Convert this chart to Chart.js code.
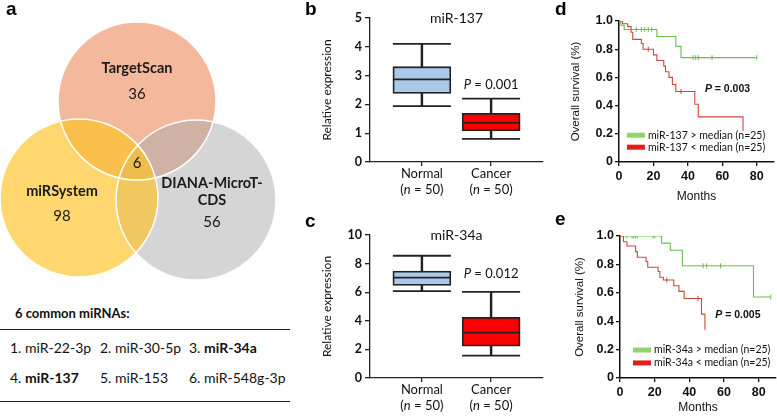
<!DOCTYPE html>
<html>
<head>
<meta charset="utf-8">
<title>miR-137 and miR-34a</title>
<script src="https://cdn.jsdelivr.net/npm/chart.js@4.4.1/dist/chart.umd.min.js"></script>
<style>
  html, body { margin: 0; padding: 0; background: #fff; }
  #fig { position: relative; width: 777px; height: 416px; overflow: hidden; color: #111; }
  #fig canvas { position: absolute; }
  .tag { position: absolute; font: bold 19px/19px "Liberation Sans", Arial, sans-serif; color: #000; }
  .txt { position: absolute; font-family: Lato, sans-serif; white-space: nowrap; color: #111; }
  .rule { position: absolute; left: 0; width: 290px; height: 0; border-top: 1.5px solid #222; }
</style>
</head>
<body>
<div id="fig">
  <canvas id="venn" width="280" height="300" style="left:0;top:0"></canvas>
  <canvas id="box137" width="245" height="200" style="left:300px;top:0"></canvas>
  <canvas id="box34a" width="245" height="216" style="left:300px;top:200px"></canvas>
  <canvas id="km137" width="232" height="205" style="left:545px;top:0"></canvas>
  <canvas id="km34a" width="232" height="216" style="left:545px;top:200px"></canvas>

  <div class="tag" style="left:6px;top:-1px">a</div>
  <div class="tag" style="left:305px;top:-1px">b</div>
  <div class="tag" style="left:305px;top:211px">c</div>
  <div class="tag" style="left:555px;top:-1px">d</div>
  <div class="tag" style="left:555px;top:209px">e</div>

  <div class="txt" id="tableHead" style="left:15px;top:306px;font-size:13px;line-height:15.6px;font-weight:bold"></div>
  <div class="rule" style="top:329px"></div>
  <div class="rule" style="top:401px"></div>
  <div id="tableRows"></div>
</div>

<script>
// ---------- data ----------
// panel a: overlap of three prediction tools
const vennSets = ['TargetScan', 'miRSystem', 'DIANA-MicroT-CDS'];
const vennOnly = [36, 98, 56];
const vennCommon = 6;
const commonMirnas = ['miR-22-3p', 'miR-30-5p', 'miR-34a', 'miR-137', 'miR-153', 'miR-548g-3p'];
const boldMirnas = ['miR-34a', 'miR-137'];

// panels b, c: five-number summaries (min, q1, median, q3, max)
const groups = ['Normal', 'Cancer'];
const groupSizes = [50, 50];
const mir137Normal = [1.94, 2.38, 2.87, 3.31, 4.10];
const mir137Cancer = [0.80, 1.08, 1.36, 1.69, 2.20];
const mir34aNormal = [6.07, 6.47, 7.02, 7.48, 8.55];
const mir34aCancer = [1.56, 2.23, 3.17, 4.24, 6.02];
const mir137Ticks = [0, 1, 2, 3, 4, 5];
const mir34aTicks = [0, 2, 4, 6, 8, 10];

// panels d, e: Kaplan-Meier steps [month, survival]
const survivalTicks = [0, 0.2, 0.4, 0.6, 0.8, 1.0];
const monthTicks = [0, 20, 40, 60, 80];

const km137High = [[0, 1], [1, 0.97], [3, 0.94], [22, 0.89], [33, 0.82], [36, 0.74], [80, 0.74]];
const km137Low = [[0, 1], [2, 0.98], [5, 0.96], [7, 0.92], [8, 0.87], [13, 0.84], [14, 0.80], [20, 0.76],
  [22, 0.72], [26, 0.68], [27, 0.64], [29, 0.60], [31, 0.55], [33, 0.50], [44, 0.41], [46, 0.32], [72, 0.32], [72, 0.22]];
const km137HighCensor = [[10, 0.94], [13, 0.94], [15, 0.94], [17, 0.94], [19, 0.94], [43, 0.74], [44.5, 0.74], [46, 0.74], [54, 0.74], [80, 0.74]];
const km137LowCensor = [[17, 0.80], [36, 0.50]];
const km137Labels = ['miR-137 > median (n=25)', 'miR-137 < median (n=25)'];

const km34aHigh = [[0, 1], [24, 0.95], [29, 0.90], [36, 0.79], [77, 0.57], [87, 0.57]];
const km34aLow = [[0, 1], [2, 0.96], [4, 0.93], [9, 0.89], [10, 0.85], [15, 0.82], [16, 0.78], [22, 0.75],
  [23, 0.71], [25, 0.69], [31, 0.65], [34, 0.61], [37, 0.56], [47, 0.45], [49, 0.34]];
const km34aHighCensor = [[2, 1], [4, 1], [7, 1], [8, 1], [9, 1], [10, 1], [19, 1], [20, 1], [48, 0.79], [50, 0.79], [58, 0.79], [87, 0.57]];
const km34aLowCensor = [[27, 0.69], [45, 0.56]];
const km34aLabels = ['miR-34a > median (n=25)', 'miR-34a < median (n=25)'];

// ---------- helpers ----------
const SANS = '"Liberation Sans", Arial, sans-serif';
const CALI = 'Lato, sans-serif';

function drawRich(ctx, parts, x, y, font, align) {
  const fontOf = p => (p.italic ? 'italic ' : '') + (font.weight || 'normal') + ' ' + font.size + 'px ' + font.family;
  let total = 0;
  parts.forEach(p => { ctx.font = fontOf(p); total += ctx.measureText(p.t).width; });
  let cx = align === 'center' ? x - total / 2 : (align === 'right' ? x - total : x);
  ctx.textAlign = 'left';
  parts.forEach(p => {
    ctx.font = fontOf(p);
    ctx.fillText(p.t, cx, y);
    cx += ctx.measureText(p.t).width;
  });
}

const baseOptions = {
  animation: false,
  responsive: false,
  events: [],
  plugins: { legend: { display: false }, tooltip: { enabled: false } },
};

// ---------- panel a: Venn ----------
// drawn bottom to top: TargetScan, DIANA, miRSystem (translucent so overlaps blend)
const vennOrder = [0, 2, 1];
const vennGeom = [{ x: 137, y: 101, r: 79 }, { x: 79, y: 198, r: 79 }, { x: 196, y: 200, r: 80 }];
const vennColors = ['#f4b99d', 'rgba(255,194,32,0.65)', 'rgba(172,172,172,0.5)'];
// centre x, name baselines, count baseline
const vennLabelPos = [
  { x: 137, lines: [73], count: 99 },
  { x: 62, lines: [196], count: 221 },
  { x: 212, lines: [188, 205], count: 227 },
];
const vennNames = [['TargetScan'], ['miRSystem'], ['DIANA-MicroT-', 'CDS']];

const vennText = {
  id: 'vennText',
  afterDatasetsDraw(chart) {
    const ctx = chart.ctx, xs = chart.scales.x, ys = chart.scales.y;
    ctx.save();
    ctx.fillStyle = '#1a1a1a';
    ctx.textAlign = 'center';
    ctx.textBaseline = 'alphabetic';
    vennLabelPos.forEach((p, i) => {
      ctx.font = 'bold 14.5px ' + CALI;
      vennNames[i].forEach((line, j) => ctx.fillText(line, xs.getPixelForValue(p.x), ys.getPixelForValue(p.lines[j])));
      ctx.font = '15px ' + CALI;
      ctx.fillText(String(vennOnly[i]), xs.getPixelForValue(p.x), ys.getPixelForValue(p.count));
    });
    ctx.font = '15px ' + CALI;
    ctx.fillText(String(vennCommon), xs.getPixelForValue(137), ys.getPixelForValue(168));
    ctx.restore();
  },
};

const vennPoints = vennOrder.map(i => ({ x: vennGeom[i].x, y: vennGeom[i].y, r: vennGeom[i].r }));
new Chart(document.getElementById('venn'), {
  type: 'bubble',
  data: {
    datasets: [
      { label: vennOrder.map(i => vennSets[i]).join(' / '), data: vennPoints,
        backgroundColor: vennOrder.map(i => vennColors[i]), borderWidth: 0, order: 2, clip: false },
      { label: 'outline', data: vennPoints, backgroundColor: 'rgba(0,0,0,0)', borderColor: '#ffffff', borderWidth: 1.5, order: 1, clip: false },
    ],
  },
  options: {
    ...baseOptions,
    layout: { padding: 0, autoPadding: false },
    scales: {
      x: { type: 'linear', min: 0, max: 280, display: false },
      y: { type: 'linear', min: 0, max: 300, reverse: true, display: false },
    },
  },
  plugins: [vennText],
});

// table under the Venn diagram
document.getElementById('tableHead').textContent = commonMirnas.length + ' common miRNAs:';
const colX = [10, 100, 189];
const rowTop = [340, 370];
document.getElementById('tableRows').innerHTML = commonMirnas.map((m, i) => {
  const name = boldMirnas.includes(m) ? '<b>' + m + '</b>' : m;
  return '<div class="txt" style="left:' + colX[i % 3] + 'px;top:' + rowTop[Math.floor(i / 3)] +
    'px;font-size:14px;line-height:16.8px">' + (i + 1) + '. ' + name + '</div>';
}).join('');

// ---------- panels b, c: box plots ----------
function drawBoxPanel(id, title, pValue, normal, cancer, ticks, pAtY, pad, xHeight) {
  const pos = [0.75, 1.75];
  const stats = [normal, cancer];
  const yMax = ticks[ticks.length - 1];
  const ink = '#222222';

  const boxText = {
    id: 'boxText',
    afterDatasetsDraw(chart) {
      const ctx = chart.ctx, xs = chart.scales.x, ys = chart.scales.y;
      ctx.save();
      ctx.fillStyle = '#111';
      ctx.textBaseline = 'middle';
      drawRich(ctx, [{ t: title }], xs.getPixelForValue(1.25), ys.getPixelForValue(yMax), { family: CALI, size: 14 }, 'center');
      drawRich(ctx, [{ t: 'P', italic: true }, { t: ' = ' + pValue }],
        xs.getPixelForValue(pos[1]), ys.getPixelForValue(pAtY), { family: CALI, size: 13 }, 'center');
      groups.forEach((g, i) => {
        const x = xs.getPixelForValue(pos[i]);
        drawRich(ctx, [{ t: g }], x, xs.top + 12, { family: CALI, size: 13 }, 'center');
        drawRich(ctx, [{ t: '(' }, { t: 'n', italic: true }, { t: ' = ' + groupSizes[i] + ')' }], x, xs.top + 28,
          { family: CALI, size: 13 }, 'center');
      });
      ctx.restore();
    },
  };

  new Chart(document.getElementById(id), {
    type: 'bar',
    data: {
      datasets: [
        {
          type: 'bar', label: 'whisker',
          data: stats.map((s, i) => ({ x: pos[i], y: [s[0], s[4]] })),
          backgroundColor: ink, barThickness: 1.8, grouped: false, order: 3,
        },
        {
          type: 'bar', label: 'box',
          data: stats.map((s, i) => ({ x: pos[i], y: [s[1], s[3]] })),
          backgroundColor: ['#aac9ea', '#ff0000'], borderColor: ink, borderWidth: 1.8,
          borderSkipped: false, barThickness: 58, grouped: false, order: 2,
        },
        {
          type: 'scatter', label: 'caps and medians',
          data: stats.flatMap((s, i) => [s[0], s[2], s[4]].map(v => ({ x: pos[i], y: v }))),
          pointStyle: 'line', pointRadius: 29, pointHoverRadius: 29,
          pointBorderColor: ink, pointBorderWidth: 1.8, order: 1,
        },
      ],
    },
    options: {
      ...baseOptions,
      layout: { padding: pad, autoPadding: false },
      scales: {
        x: {
          type: 'linear', min: 0, max: 2.5, offset: false,
          afterBuildTicks: s => { s.ticks = pos.map(v => ({ value: v })); },
          afterFit: s => { s.height = xHeight; },
          grid: { display: true, drawOnChartArea: false, drawTicks: true, tickLength: 4, color: ink, lineWidth: 1.3, offset: false },
          border: { display: true, color: ink, width: 1.3 },
          ticks: { display: false },
        },
        y: {
          min: 0, max: yMax,
          afterBuildTicks: s => { s.ticks = ticks.map(v => ({ value: v })); },
          afterFit: s => { s.width = 70 - pad.left; },
          grid: { display: true, drawOnChartArea: false, drawTicks: true, tickLength: 5, color: ink, lineWidth: 1.3 },
          border: { display: true, color: ink, width: 1.3 },
          ticks: { font: { family: CALI, size: 12.5, weight: 'bold' }, color: '#111', padding: 3 },
          title: { display: true, text: 'Relative expression', font: { family: CALI, size: 12 }, color: '#111', padding: { top: 3, bottom: 0 } },
        },
      },
    },
    plugins: [boxText],
  });
}

drawBoxPanel('box137', 'miR-137', '0.001', mir137Normal, mir137Cancer, mir137Ticks, 2.69,
  { top: 18, left: 17, right: 2, bottom: 0 }, 38);
drawBoxPanel('box34a', 'miR-34a', '0.012', mir34aNormal, mir34aCancer, mir34aTicks, 7.28,
  { top: 35, left: 17, right: 2, bottom: 0 }, 38);

// ---------- panels d, e: survival curves ----------
const kmGreen = '#6cbf4c';
const kmRed = '#d4443f';
const swatchColors = ['#92d36c', '#e41c1c'];

function drawSurvivalPanel(id, high, low, highCensor, lowCensor, labels, pValue, pAt, legendAt, pad, xHeight) {
  const toXY = arr => arr.map(([x, y]) => ({ x: x, y: y }));

  const kmText = {
    id: 'kmText',
    afterDatasetsDraw(chart) {
      const ctx = chart.ctx, xs = chart.scales.x, ys = chart.scales.y;
      ctx.save();
      ctx.fillStyle = '#111';
      ctx.textBaseline = 'middle';
      drawRich(ctx, [{ t: 'P', italic: true }, { t: ' = ' + pValue }],
        xs.getPixelForValue(pAt[0]), ys.getPixelForValue(pAt[1]), { family: SANS, size: 10.5, weight: 'bold' }, 'center');
      labels.forEach((lab, i) => {
        const x = xs.getPixelForValue(legendAt[0]);
        const y = ys.getPixelForValue(legendAt[1][i]);
        ctx.fillStyle = swatchColors[i];
        ctx.fillRect(x, y - 2.5, 18, 5);
        ctx.fillStyle = '#111';
        drawRich(ctx, [{ t: lab }], x + 21, y, { family: CALI, size: 10.5 }, 'left');
      });
      ctx.restore();
    },
  };

  new Chart(document.getElementById(id), {
    type: 'line',
    data: {
      datasets: [
        { label: labels[1], data: toXY(low), stepped: 'before', borderColor: kmRed, borderWidth: 1.1, pointRadius: 0, fill: false },
        { label: labels[0], data: toXY(high), stepped: 'before', borderColor: kmGreen, borderWidth: 1.1, pointRadius: 0, fill: false },
        { type: 'scatter', label: 'censored high', data: toXY(highCensor), pointStyle: 'line', pointRotation: 90,
          pointRadius: 2.5, pointBorderColor: kmGreen, pointBorderWidth: 1 },
        { type: 'scatter', label: 'censored low', data: toXY(lowCensor), pointStyle: 'line', pointRotation: 90,
          pointRadius: 2.5, pointBorderColor: kmRed, pointBorderWidth: 1 },
      ],
    },
    options: {
      ...baseOptions,
      layout: { padding: pad, autoPadding: false },
      scales: {
        x: {
          type: 'linear', min: 0, max: 90,
          afterBuildTicks: s => { s.ticks = monthTicks.map(v => ({ value: v })); },
          afterFit: s => { s.height = xHeight; },
          grid: { display: true, drawOnChartArea: false, drawTicks: true, tickLength: 4, color: '#111', lineWidth: 1.3 },
          border: { display: true, color: '#111', width: 1.5 },
          ticks: { font: { family: SANS, size: 12.5, weight: 'bold' }, color: '#111', padding: 3, maxRotation: 0, autoSkip: false },
          title: { display: true, text: 'Months', font: { family: SANS, size: 12 }, color: '#111', padding: { top: 0, bottom: 1 } },
        },
        y: {
          type: 'linear', min: 0, max: 1,
          afterBuildTicks: s => { s.ticks = survivalTicks.map(v => ({ value: v })); },
          afterFit: s => { s.width = 74 - pad.left + (pad.extra || 0); },
          grid: { display: true, drawOnChartArea: false, drawTicks: true, tickLength: 4, color: '#111', lineWidth: 1.3 },
          border: { display: true, color: '#111', width: 1.5 },
          ticks: {
            font: { family: SANS, size: 12.5, weight: 'bold' }, color: '#111', padding: 2,
            callback: v => (v === 0 ? '0' : v.toFixed(1)),
          },
          title: { display: true, text: 'Overall survival (%)', font: { family: SANS, size: 11.5 }, color: '#111', padding: { top: 4, bottom: 0 } },
        },
      },
    },
    plugins: [kmText],
  });
}

drawSurvivalPanel('km137', km137High, km137Low, km137HighCensor, km137LowCensor, km137Labels, '0.003',
  [63, 0.52], [4.6, [0.19, 0.105]], { top: 21, left: 20, right: 3, bottom: 0 }, 43);
drawSurvivalPanel('km34a', km34aHigh, km34aLow, km34aHighCensor, km34aLowCensor, km34aLabels, '0.005',
  [68, 0.44], [7.5, [0.197, 0.106]], { top: 36, left: 24, right: 1, bottom: 0, extra: 1 }, 38);
</script>
</body>
</html>
